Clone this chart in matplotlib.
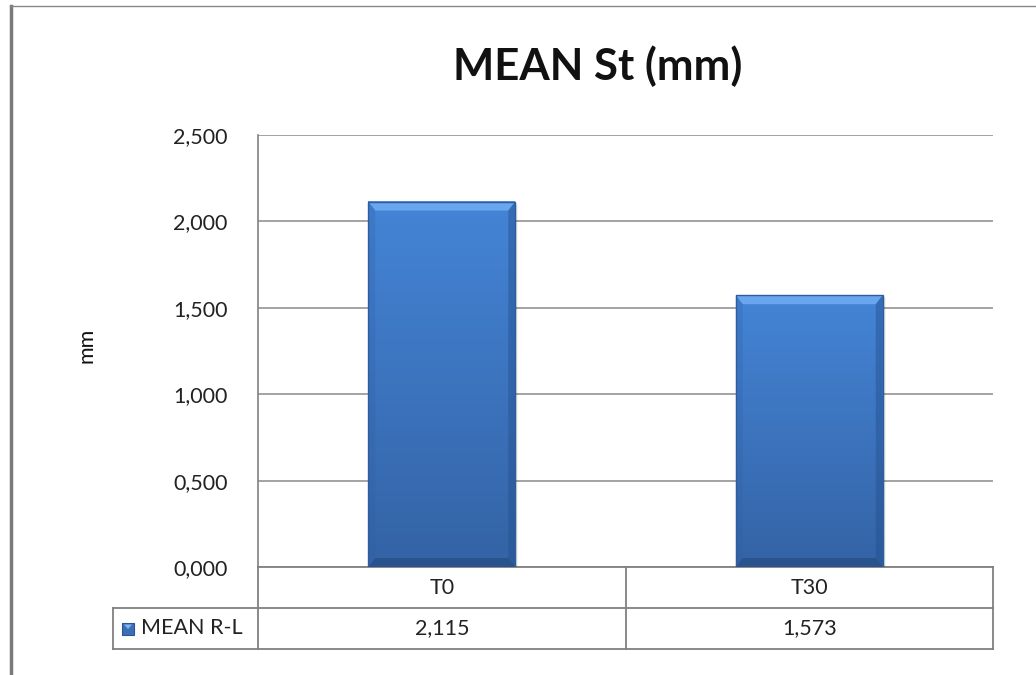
import numpy as np
import matplotlib.pyplot as plt
from matplotlib.patches import Rectangle, Polygon
from matplotlib.ticker import FuncFormatter
from matplotlib.colors import LinearSegmentedColormap

# data
categories = ["T0", "T30"]
values = [2.115, 1.573]
series_name = "MEAN R-L"
title = "MEAN St (mm)"
y_label = "mm"
y_ticks = [0, 0.5, 1.0, 1.5, 2.0, 2.5]

FONT = ["Lato", "DejaVu Sans"]
plt.rcParams["font.family"] = FONT
FS = 15.5

W, H = 1036, 675
fig = plt.figure(figsize=(W / 100, H / 100), dpi=100)
fig.patch.set_facecolor("white")

# plot area in pixels
px_l, px_r, px_t, px_b = 258, 993, 135, 567
ax = fig.add_axes([px_l / W, 1 - px_b / H, (px_r - px_l) / W, (px_b - px_t) / H])
ax.set_xlim(-0.5, len(categories) - 0.5)
ax.set_ylim(0, 2.5)
ax.set_yticks(y_ticks)
ax.yaxis.set_major_formatter(FuncFormatter(lambda v, p: f"{v:.3f}".replace(".", ",")))
ax.set_xticks([])
ax.tick_params(axis="y", length=0, pad=22, labelsize=FS, colors="#222222")
for s in ["top", "right", "bottom"]:
    ax.spines[s].set_visible(False)
ax.spines["left"].set_color("#808080")
ax.spines["left"].set_linewidth(1.2)
ax.grid(axis="y", color="#8a8a8a", linewidth=1.1)
ax.set_axisbelow(True)

# pixel -> data conversion
dx = (len(categories)) / (px_r - px_l)
dy = 2.5 / (px_b - px_t)

grad = LinearSegmentedColormap.from_list("bar", ["#3463a5", "#3c74be", "#4484d6"])
bars = ax.bar(range(len(categories)), values, width=0.4, color="none", zorder=2)
for b in bars:
    x0, w, h = b.get_x(), b.get_width(), b.get_height()
    # soft shadow
    for k, a in [(5, 0.05), (3, 0.08), (1.5, 0.12)]:
        ax.add_patch(Rectangle((x0 + k * dx * 0.6, -k * dy * 0.6), w, h, color="#000000",
                               alpha=a, lw=0, zorder=2))
    g = np.linspace(0, 1, 256).reshape(-1, 1)
    ax.imshow(g, extent=(x0, x0 + w, 0, h), origin="lower", cmap=grad, aspect="auto",
              zorder=3, interpolation="bilinear")
    tb, sb = 9 * dy, 7 * dx
    # bevel edges: top light, right dark, bottom dark, left slightly dark
    top = Polygon([(x0, h), (x0 + w, h), (x0 + w - sb, h - tb), (x0 + sb, h - tb)],
                  color="#74b0f4", alpha=0.8, lw=0, zorder=4)
    right = Polygon([(x0 + w, h), (x0 + w, 0), (x0 + w - sb, tb), (x0 + w - sb, h - tb)],
                    color="#23508e", alpha=0.45, lw=0, zorder=4)
    bottom = Polygon([(x0, 0), (x0 + w, 0), (x0 + w - sb, tb), (x0 + sb, tb)],
                     color="#22467c", alpha=0.55, lw=0, zorder=4)
    left = Polygon([(x0, 0), (x0, h), (x0 + sb, h - tb), (x0 + sb, tb)],
                   color="#2d5fa6", alpha=0.25, lw=0, zorder=4)
    for p in (top, right, bottom, left):
        ax.add_patch(p)
    ax.add_patch(Rectangle((x0, 0), w, h, fill=False, ec="#2e5c9c", lw=1.0, zorder=5))
ax.set_xlim(-0.5, len(categories) - 0.5)
ax.set_ylim(0, 2.5)

# data table under the chart
row_h = 41 * dy
leg_w = (px_l - 113) * dx
lc, lw = "#808080", 1.3
y1, y2 = -row_h, -2 * row_h
xl, xr = -0.5, len(categories) - 0.5
kw = dict(color=lc, lw=lw, clip_on=False, zorder=1)
ax.plot([xl, xr], [0, 0], **kw)
ax.plot([xl - leg_w, xr], [y1, y1], **kw)
ax.plot([xl - leg_w, xr], [y2, y2], **kw)
ax.plot([xl, xl], [0, y2], **kw)
ax.plot([xl - leg_w, xl - leg_w], [y1, y2], **kw)
for i in range(len(categories)):
    ax.plot([i + 0.5, i + 0.5], [0, y2], **kw)
    ax.text(i, y1 / 2, categories[i], ha="center", va="center", fontsize=FS,
            color="#222222", clip_on=False)
    ax.text(i, (y1 + y2) / 2, f"{values[i]:.3f}".replace(".", ","), ha="center",
            va="center", fontsize=FS, color="#222222", clip_on=False)

# legend key inside the table
kx = xl - leg_w + 9 * dx
ks_w, ks_h = 12 * dx, 12 * dy
ky = (y1 + y2) / 2 - ks_h / 2
ax.add_patch(Rectangle((kx, ky), ks_w, ks_h, color="#3b6fb5", ec="#2a5592", lw=0.8,
                       clip_on=False))
ax.add_patch(Polygon([(kx + 2 * dx, ky + ks_h - 2 * dy), (kx + ks_w - 2 * dx, ky + ks_h - 2 * dy),
                      (kx + ks_w / 2, ky + ks_h * 0.45)], color="#7fb4ef", lw=0, clip_on=False))
ax.text(kx + ks_w + 7 * dx, (y1 + y2) / 2, series_name, ha="left", va="center",
        fontsize=FS, color="#222222", clip_on=False)

# title and y label
fig.text(598 / W, 1 - 66 / H, title, ha="center", va="center", fontsize=31.5,
         fontweight="bold", color="#111111")
fig.text(87 / W, 1 - 345 / H, y_label, ha="center", va="center", rotation=90,
         fontsize=FS, color="#111111")

# outer frame
fig.add_artist(plt.Line2D([11 / W, 11 / W], [0, 1 - 6 / H], color="#7a7a7a", lw=2.5))
fig.add_artist(plt.Line2D([10 / W, 1], [1 - 6 / H, 1 - 6 / H], color="#888888", lw=1.0))

fig.savefig("out.png", dpi=100, facecolor="white")
